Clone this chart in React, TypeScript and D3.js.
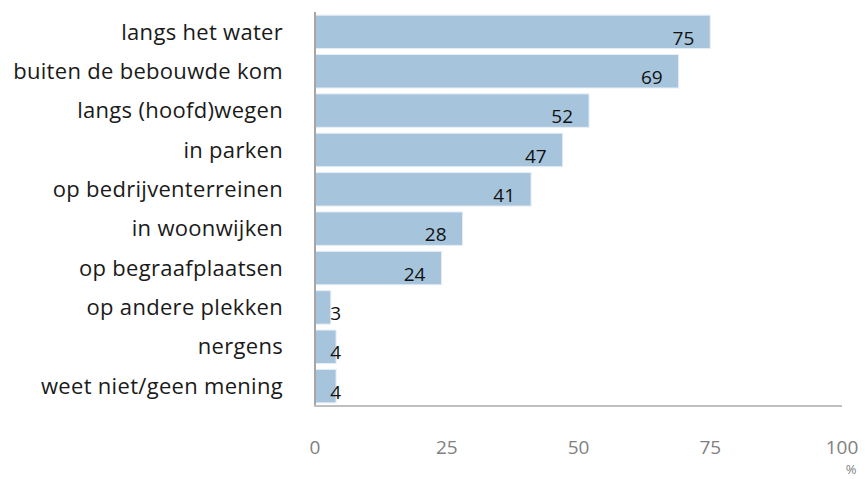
import React from "react";
import * as d3 from "d3";

const categories = [
  "langs het water",
  "buiten de bebouwde kom",
  "langs (hoofd)wegen",
  "in parken",
  "op bedrijventerreinen",
  "in woonwijken",
  "op begraafplaatsen",
  "op andere plekken",
  "nergens",
  "weet niet/geen mening",
];
const values = [75, 69, 52, 47, 41, 28, 24, 3, 4, 4];
const xTicks = [0, 25, 50, 75, 100];

const FONT = "'Open Sans', 'Noto Sans', sans-serif";

const App = () => {
  const width = 865;
  const height = 479;
  const margin = { top: 12, left: 315, right: 23, bottom: 73 };

  const x = d3.scaleLinear()
    .domain([0, 100])
    .range([margin.left, width - margin.right]);

  const y = d3.scaleBand()
    .domain(categories)
    .range([margin.top, height - margin.bottom])
    .paddingInner(0.15)
    .paddingOuter(0.08);

  const axisY = height - margin.bottom;

  return (
    <svg width={width} height={height} style={{ position: "absolute", left: 0, top: 0 }} fontFamily={FONT}>
      {categories.map((c, i) => {
        const by = y(c) || 0;
        const bh = y.bandwidth();
        const v = values[i];
        return (
          <g key={c}>
            <rect x={x(0)} y={by} width={x(v) - x(0)} height={bh} fill="#a6c5dd" stroke="#e6eef5" strokeWidth="1"></rect>
            <text x={Math.max(x(v) - 16, x(0) + 26)} y={by + bh - 4} textAnchor="end" fontSize="19" fill="#111">{v}</text>
            <text x={283} y={by + bh / 2} dy="0.35em" textAnchor="end" fontSize="22" letterSpacing="0.3" fill="#1a1a1a">{c}</text>
          </g>
        );
      })}
      <line x1={x(0)} x2={x(0)} y1={margin.top} y2={axisY} stroke="#a6a6a6" strokeWidth="2"></line>
      <line x1={x(0) - 1} x2={x(100)} y1={axisY} y2={axisY} stroke="#bfbfbf" strokeWidth="2"></line>
      {xTicks.map(t => (
        <text key={t} x={x(t)} y={454} textAnchor="middle" fontSize="19" fill="#7f7f7f">{t}</text>
      ))}
      <text x={851} y={474} textAnchor="middle" fontSize="13" fill="#7f7f7f">%</text>
    </svg>
  );
};

export default App;
